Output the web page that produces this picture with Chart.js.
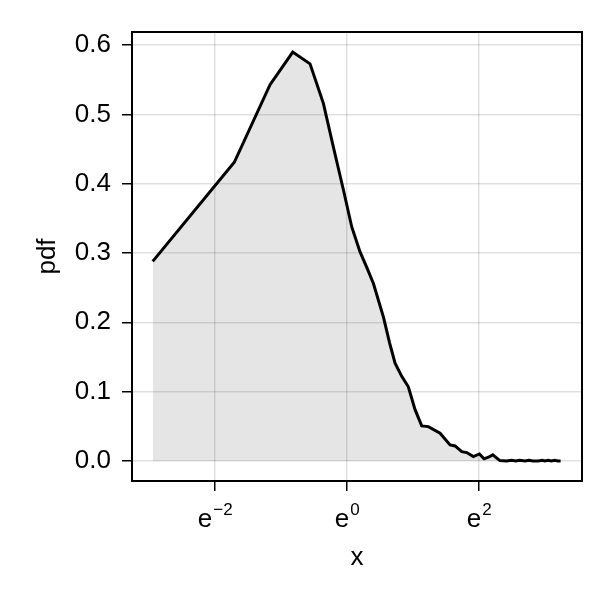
<!DOCTYPE html>
<html><head><meta charset="utf-8">
<script src="https://cdn.jsdelivr.net/npm/chart.js@4/dist/chart.umd.min.js"></script>
<style>html,body{margin:0;padding:0;background:#fff}canvas{display:block}</style>
</head><body>
<canvas id="c" width="614" height="602"></canvas>
<script>
// x values (natural scale)
const xValues = [0.0529, 0.1821, 0.3129, 0.4413, 0.5735, 0.7019, 0.8187, 0.9512, 1.0779, 1.2214,
  1.3499, 1.4978, 1.7419, 1.9155, 2.0792, 2.3002, 2.5421, 2.8151, 3.1143, 3.4419,
  4.1123, 4.7828, 5.1604, 5.7090, 6.1598, 6.8075, 7.4633, 8.0045, 8.5507, 9.1340,
  10.176, 11.246, 12.18, 12.94, 13.74, 14.88, 15.80, 16.78, 18.17, 19.30,
  20.09, 21.12, 22.20, 23.34, 24.53, 25.53];
const pdfValues = [0.288, 0.431, 0.543, 0.590, 0.573, 0.516, 0.452, 0.391, 0.338, 0.302,
  0.280, 0.256, 0.208, 0.170, 0.141, 0.122, 0.107, 0.074, 0.0505, 0.0495,
  0.040, 0.023, 0.0216, 0.0134, 0.012, 0.0062, 0.010, 0.003, 0.0053, 0.0087,
  0.0005, 0.0, 0.001, 0.0, 0.001, 0.0, 0.001, 0.0, 0.0, 0.001,
  0.0, 0.001, 0.0, 0.001, 0.0, 0.0];
const xTickValues = [Math.exp(-2), 1, Math.exp(2)];
const xTickBases = ['e', 'e', 'e'];
const xTickExponents = ['\u22122', '0', '2'];
const yTickValues = [0, 0.1, 0.2, 0.3, 0.4, 0.5, 0.6];
const xTitle = 'x';
const yTitle = 'pdf';

const FONT = "'Liberation Sans', Arial, sans-serif";
const FS = 26;
const points = xValues.map((x, i) => ({x: x, y: pdfValues[i]}));

const frame = {
  id: 'frame',
  afterDraw(chart) {
    const {ctx, chartArea: a} = chart;
    ctx.save();
    ctx.strokeStyle = '#000';
    ctx.lineWidth = 2;
    ctx.strokeRect(a.left, a.top, a.right - a.left, a.bottom - a.top);
    // x tick labels with superscript exponents, placed by the x scale
    const xs = chart.scales.x;
    ctx.fillStyle = '#000';
    ctx.textBaseline = 'alphabetic';
    ctx.textAlign = 'left';
    const baseFont = FS + 'px ' + FONT;
    const expFont = Math.round(FS * 0.66) + 'px ' + FONT;
    const baseY = a.bottom + 46;
    xTickValues.forEach((v, i) => {
      const px = xs.getPixelForValue(v);
      ctx.font = baseFont;
      const wb = ctx.measureText(xTickBases[i]).width;
      ctx.font = expFont;
      const we = ctx.measureText(xTickExponents[i]).width;
      const x0 = px - (wb + we) / 2;
      ctx.font = baseFont;
      ctx.fillText(xTickBases[i], x0, baseY);
      ctx.font = expFont;
      ctx.fillText(xTickExponents[i], x0 + wb + 1, baseY - 12);
    });
    ctx.restore();
  }
};

new Chart(document.getElementById('c'), {
  type: 'line',
  data: {
    datasets: [{
      data: points,
      borderColor: '#000',
      borderWidth: 3,
      backgroundColor: 'rgba(0,0,0,0.1)',
      fill: 'origin',
      pointRadius: 0,
      tension: 0
    }]
  },
  options: {
    responsive: false,
    animation: false,
    devicePixelRatio: 1,
    layout: {padding: {left: 0, top: 32, right: 32, bottom: 0}},
    plugins: {legend: {display: false}, tooltip: {enabled: false}},
    scales: {
      x: {
        type: 'logarithmic',
        min: 0.03865,
        max: 35.3,
        afterFit(s) { s.height = 121; },
        afterBuildTicks(s) { s.ticks = xTickValues.map(v => ({value: v})); },
        grid: {color: 'rgba(0,0,0,0.12)', lineWidth: 1.5, tickColor: '#000', tickLength: 10, tickWidth: 1.5},
        border: {display: false},
        ticks: {display: false},
        title: {display: true, text: xTitle, color: '#000', font: {family: FONT, size: FS}, padding: {top: 0, bottom: 29}}
      },
      y: {
        type: 'linear',
        min: -0.029,
        max: 0.619,
        afterFit(s) { s.width = 132; },
        afterBuildTicks(s) { s.ticks = yTickValues.map(v => ({value: v})); },
        grid: {color: 'rgba(0,0,0,0.12)', lineWidth: 1.5, tickColor: '#000', tickLength: 10, tickWidth: 1.5},
        border: {display: false},
        ticks: {
          color: '#000', font: {family: FONT, size: FS}, padding: 11,
          callback(v) { return Number(v).toFixed(1); }
        },
        title: {display: true, text: yTitle, color: '#000', font: {family: FONT, size: FS}, padding: {top: 32, bottom: 0}}
      }
    }
  },
  plugins: [frame]
});
</script>
</body></html>
